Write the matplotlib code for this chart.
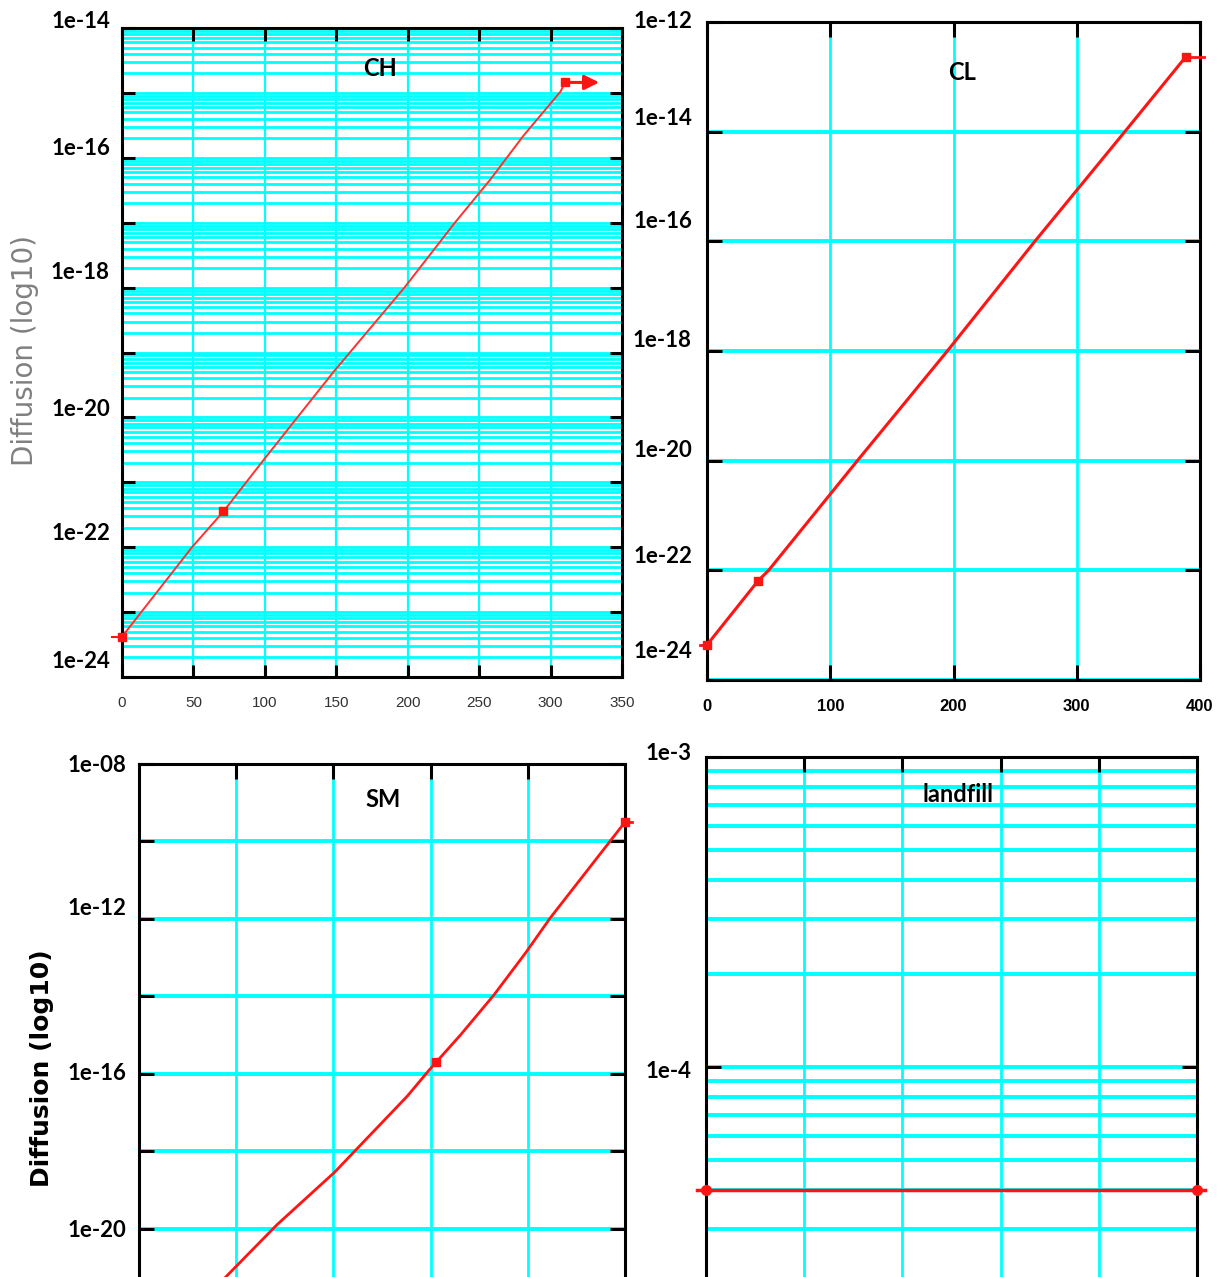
import numpy as np
import matplotlib
matplotlib.use("Agg")
import matplotlib.pyplot as plt
from matplotlib import transforms
from matplotlib.ticker import FixedLocator, NullFormatter

# ---------------- data ----------------
ch_x = [0, 49, 71, 100, 148, 198, 233, 258, 281, 307, 310]
ch_y = [4.17e-24, 1.0e-22, 3.55e-22, 2.34e-21, 5.01e-20, 1.02e-18, 1.0e-17,
        4.68e-17, 2.19e-16, 1.05e-15, 1.45e-15]
ch_mark_x = [0, 71, 310]
ch_mark_y = [4.17e-24, 3.55e-22, 1.45e-15]

cl_x = [0, 41.5, 50, 122, 195, 266, 339, 388.6]
cl_y = [4.37e-24, 6.46e-23, 1.0e-22, 1.0e-20, 1.0e-18, 1.0e-16, 1.0e-14, 2.34e-13]
cl_mark_x = [0, 41.5, 388.6]
cl_mark_y = [4.37e-24, 6.46e-23, 2.34e-13]

sm_x = [80, 92, 142, 201, 276, 298, 331, 365, 398, 423, 486, 500]
sm_y = [3.24e-22, 6.61e-22, 1.26e-20, 2.82e-19, 2.63e-17, 1.20e-16, 1.02e-15,
        1.07e-14, 1.35e-13, 1.05e-12, 1.12e-10, 3.16e-10]
sm_mark_x = [305.6, 500]
sm_mark_y = [2.0e-16, 3.16e-10]

lf_x = [0, 500]
lf_y = [4e-5, 4e-5]

ch_xticks = [0, 50, 100, 150, 200, 250, 300, 350]
cl_xticks = [0, 100, 200, 300, 400]
ch_ylabels = ["1e-24", "1e-22", "1e-20", "1e-18", "1e-16", "1e-14"]
cl_ylabels = ["1e-24", "1e-22", "1e-20", "1e-18", "1e-16", "1e-14", "1e-12"]
sm_ylabels = ["1e-20", "1e-16", "1e-12", "1e-08"]
lf_ylabels = ["1e-4", "1e-3"]
titles = ["CH", "CL", "SM", "landfill"]
ylabel_text = "Diffusion (log10)"

# ---------------- style ----------------
W, H = 1221, 1277
CYAN = "#00FFFF"
RED = "#FF1414"
BOLD = ["Lato", "DejaVu Sans"]
SANS = ["Liberation Sans", "DejaVu Sans"]

fig = plt.figure(figsize=(W / 100, H / 100), dpi=100)


def axpos(l, t, r, b):
    return [l / W, 1 - b / H, (r - l) / W, (b - t) / H]


def base_axes(rect, xlim, ylim):
    ax = fig.add_axes(rect)
    ax.set_yscale("log")
    ax.set_xlim(*xlim)
    ax.set_ylim(*ylim)
    ax.set_axisbelow(True)
    for s in ax.spines.values():
        s.set_linewidth(2.2)
        s.set_color("black")
    ax.tick_params(axis="both", which="major", direction="in", length=9,
                   width=2.2, color="black", top=True, right=True)
    ax.tick_params(axis="both", which="minor", length=0, left=False, right=False)
    ax.yaxis.set_major_formatter(NullFormatter())
    ax.yaxis.set_minor_formatter(NullFormatter())
    return ax


def grid(ax, ys, xs, hlw, vlw):
    for y in ys:
        ax.axhline(y, color=CYAN, lw=hlw, zorder=0.2)
    for x in xs:
        ax.axvline(x, color=CYAN, lw=vlw, zorder=0.2)


def ylabels(ax, labels, offsets, dx):
    for lab, off in zip(labels, offsets):
        val = float(lab)
        tr = transforms.offset_copy(ax.get_yaxis_transform(), fig=fig,
                                    x=dx, y=off, units="dots")
        ax.text(0, val, lab, transform=tr, ha="right", va="center",
                fontsize=16, fontweight="bold", family=BOLD, clip_on=False)


# ---------------- CH ----------------
ax1 = base_axes(axpos(122, 28, 622, 677), (0, 350), (1e-24, 1e-14))
ch_major = [10.0 ** e for e in range(-24, -13)]
ch_minor = [m * 10.0 ** e for e in range(-24, -14) for m in range(2, 10)]
ax1.yaxis.set_major_locator(FixedLocator(ch_major))
ax1.yaxis.set_minor_locator(FixedLocator([]))
ax1.set_xticks(ch_xticks)
ax1.set_xticklabels([str(v) for v in ch_xticks], fontsize=11, family=SANS,
                    color="#333333")
ax1.tick_params(axis="x", pad=14)
grid(ax1, ch_major + ch_minor, ch_xticks[1:-1], 2.0, 1.6)
ax1.plot(ch_x, ch_y, color="#FF3030", lw=1.4, zorder=3)
ax1.plot(ch_mark_x, ch_mark_y, ls="none", marker="s", ms=6, color=RED,
         zorder=4, clip_on=False)
ax1.plot([-7, 0], [ch_y[0], ch_y[0]], color=RED, lw=1.5, clip_on=False, zorder=4)
ax1.annotate("", xy=(334, ch_y[-1]), xytext=(310, ch_y[-1]),
             arrowprops=dict(arrowstyle="-|>", color=RED, lw=2.2,
                             mutation_scale=22, shrinkA=0, shrinkB=0),
             annotation_clip=False, zorder=4)
ylabels(ax1, ch_ylabels, [16, 14, 8, 15, 9, 6], -12)
ax1.text(0.516, 0.938, titles[0], transform=ax1.transAxes, ha="center",
         va="center", fontsize=17, fontweight="bold", family=BOLD)

# ---------------- CL ----------------
ax2 = base_axes(axpos(707, 22, 1200, 680), (0, 400), (1e-24, 1e-12))
cl_major = [10.0 ** e for e in range(-24, -11, 2)]
ax2.yaxis.set_major_locator(FixedLocator(cl_major))
ax2.yaxis.set_minor_locator(FixedLocator([]))
ax2.set_xticks(cl_xticks)
ax2.set_xticklabels([str(v) for v in cl_xticks], fontsize=12, family=SANS,
                    fontweight="bold")
ax2.tick_params(axis="x", pad=14)
ax2.tick_params(axis="both", which="major", length=11)
grid(ax2, cl_major, cl_xticks[1:-1], 2.8, 2.0)
ax2.plot(cl_x, cl_y, color=RED, lw=2.2, zorder=3)
ax2.plot(cl_mark_x, cl_mark_y, ls="none", marker="s", ms=6, color=RED,
         zorder=4, clip_on=False)
ax2.plot([-6, 0], [cl_y[0], cl_y[0]], color=RED, lw=2, clip_on=False, zorder=4)
ax2.plot([388.6, 403], [cl_y[-1], cl_y[-1]], color=RED, lw=2, clip_on=False,
         zorder=4)
ylabels(ax2, cl_ylabels, [28, 14, 10, 10, 20, 13, 0], -15)
ax2.text(0.517, 0.924, titles[1], transform=ax2.transAxes, ha="center",
         va="center", fontsize=17, fontweight="bold", family=BOLD)

# ---------------- SM ----------------
ax3 = base_axes(axpos(139, 764, 625, 1306), (0, 500), (1e-22, 1e-8))
sm_major = [10.0 ** e for e in range(-22, -7, 2)]
ax3.yaxis.set_major_locator(FixedLocator(sm_major))
ax3.yaxis.set_minor_locator(FixedLocator([]))
ax3.set_xticks([100, 200, 300, 400])
ax3.set_xticklabels([])
ax3.tick_params(axis="both", which="major", length=11)
grid(ax3, sm_major, [100, 200, 300, 400], 2.8, 2.0)
ax3.plot(sm_x, sm_y, color=RED, lw=2.0, zorder=3)
ax3.plot(sm_mark_x, sm_mark_y, ls="none", marker="s", ms=6, color=RED,
         zorder=4, clip_on=False)
ax3.plot([500, 507], [sm_y[-1], sm_y[-1]], color=RED, lw=2, clip_on=False,
         zorder=4)
ylabels(ax3, sm_ylabels, [-2, 0, 10, -2], -13)
ax3.text(0.502, 0.934, titles[2], transform=ax3.transAxes, ha="center",
         va="center", fontsize=17, fontweight="bold", family=BOLD)

# ---------------- landfill ----------------
ax4 = base_axes(axpos(706, 757, 1197, 1377), (0, 500), (1e-5, 1e-3))
lf_major = [1e-5, 1e-4, 1e-3]
lf_minor = [m * 10.0 ** e for e in range(-5, -3) for m in range(2, 10)]
ax4.yaxis.set_major_locator(FixedLocator(lf_major))
ax4.yaxis.set_minor_locator(FixedLocator([]))
ax4.set_xticks([100, 200, 300, 400])
ax4.set_xticklabels([])
ax4.tick_params(axis="both", which="major", length=11)
grid(ax4, lf_major + lf_minor, [100, 200, 300, 400], 2.8, 2.0)
ax4.plot([-9, 508], lf_y, color=RED, lw=2.5, zorder=3, clip_on=False)
ax4.plot(lf_x, lf_y, ls="none", marker="o", ms=7, color=RED, zorder=4,
         clip_on=False)
ylabels(ax4, lf_ylabels, [-5, 3], -14)
ax4.text(0.513, 0.94, titles[3], transform=ax4.transAxes, ha="center",
         va="center", fontsize=17, fontweight="bold", family=BOLD)

# ---------------- y-axis titles ----------------
fig.text(25 / W, 1 - 350 / H, ylabel_text, rotation=90, ha="center",
         va="center", fontsize=20, color="#808080", family=["DejaVu Sans"])
fig.text(42 / W, 1 - 1068 / H, ylabel_text, rotation=90, ha="center",
         va="center", fontsize=18, fontweight="bold", color="black",
         family=["DejaVu Sans"])

fig.savefig("out.png", dpi=100)
